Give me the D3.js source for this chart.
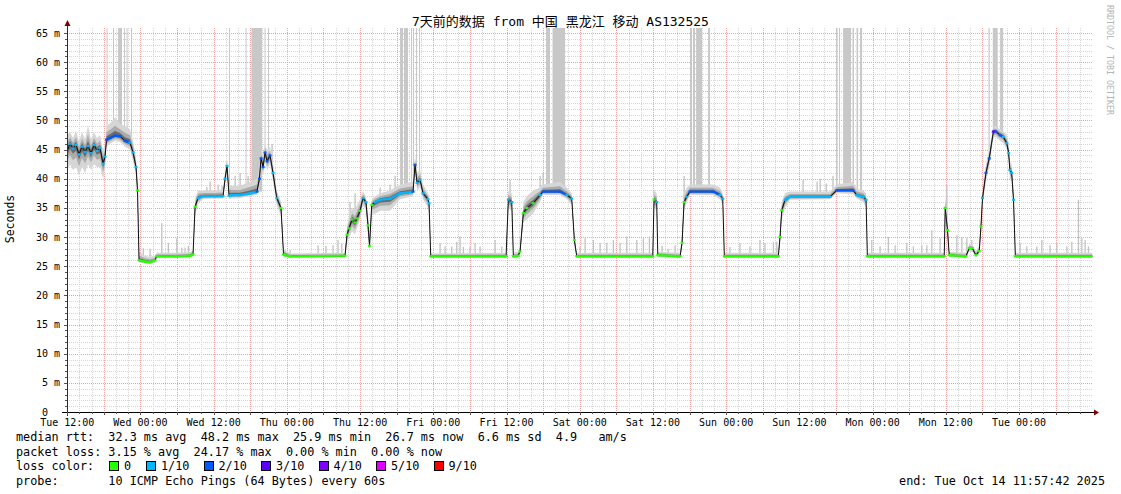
<!DOCTYPE html>
<html><head><meta charset="utf-8">
<script src="https://cdn.jsdelivr.net/npm/d3@7"></script>
<style>
html,body{margin:0;padding:0;background:#fff;}
svg{display:block;}
text{font-family:"DejaVu Sans Mono","Noto Sans CJK SC",monospace;white-space:pre;}
</style></head><body>
<svg id="chart" width="1121" height="494"></svg>
<script>
// ---- data (hours after Tue 12:00, median rtt in ms) ----
const hours=[0,0.46,0.95,1.44,1.93,2.43,2.92,3.41,3.9,4.39,4.88,5.38,5.87,6.2,6.44,7.0,7.83,8.65,9.47,10.29,10.79,11.28,11.52,11.77,12.75,13.57,14.4,14.64,17.67,20.1,20.62,20.95,21.44,22.26,24.23,25.54,25.87,26.19,26.52,27.0,28.3,29.95,31.1,31.5,31.77,32.1,32.42,32.75,33.24,33.73,34.34,35.04,35.45,36.52,45.53,45.86,46.19,46.68,47.17,47.5,48.0,48.47,48.96,49.3,49.55,49.91,50.45,51.27,52.91,54.55,56.68,57.0,57.34,57.83,58.32,59.14,59.3,59.58,71.93,72.3,72.86,73.12,73.89,74.22,74.76,75.32,76.35,77.5,77.99,80.77,81.87,82.69,83.12,83.51,95.97,96.18,96.62,96.79,100.45,100.77,101.1,101.54,102.08,105.85,107.0,107.44,107.7,116.55,116.83,117.11,117.65,118.47,125.03,126.13,128.8,129.41,130.49,130.93,131.14,143.74,143.9,144.28,144.56,147.3,147.84,148.33,148.94,149.48,149.76,150.02,150.58,151.12,151.8,152.2,152.9,153.4,154.0,154.3,154.5,154.8,155.1,155.4,168];
const median=[44.8,46.0,45.2,45.8,44.2,45.5,44.6,45.6,44.4,45.8,44.8,45.3,42.6,43.8,46.7,47.0,47.4,47.3,46.5,46.2,44.5,42.0,38.0,26.0,25.8,25.7,26.0,26.7,26.7,26.8,27.0,35.2,36.7,37.0,37.0,37.0,40.0,42.2,37.1,37.2,37.2,37.5,37.8,40.0,43.5,42.0,44.5,43.0,44.0,41.0,36.7,35.0,27.0,26.7,26.8,30.4,31.5,33.0,32.5,33.2,34.5,36.7,36.0,32.0,28.5,35.5,36.0,36.4,36.6,37.5,37.8,42.4,39.3,39.8,37.5,36.5,35.8,26.7,26.7,36.4,36.0,26.7,26.8,27.5,34.1,35.0,35.8,37.2,37.8,37.8,37.2,36.6,29.5,26.7,26.7,36.4,36.0,26.9,26.7,29.0,36.0,36.9,37.8,37.8,37.2,36.6,26.7,26.7,30.0,34.6,36.4,36.9,36.9,38.0,38.0,37.2,36.9,36.4,26.7,26.7,35.0,31.2,26.9,26.7,28.1,28.1,26.9,27.6,31.8,36.7,41.0,43.5,48.1,48.1,47.5,47.2,46.1,44.4,41.5,41.0,36.4,26.7,26.7];
const lossLevel=[1,1,1,1,1,1,1,1,1,1,1,1,1,1,2,2,2,2,2,1,1,1,0,0,0,0,0,0,0,0,0,0,1,1,1,1,1,1,1,1,1,1,2,2,2,2,2,2,2,1,1,0,0,0,0,0,0,0,0,0,0,1,1,0,0,0,1,1,1,1,2,2,1,1,1,1,1,0,0,1,1,0,0,0,0,0,0,1,2,2,1,1,0,0,0,0,1,0,0,0,0,1,2,2,1,1,0,0,0,0,1,1,1,2,2,1,1,1,0,0,0,0,0,0,0,0,0,0,0,1,2,2,3,2,2,1,1,1,1,1,1,0,0];
const smokeLo=[41.5,42.5,41.5,42.0,40.5,42.0,41.0,42.5,41.5,42.5,42.0,42.0,40.0,41.5,45.5,46.0,46.5,46.3,45.5,45.0,43.0,40.5,36.0,25.6,25.5,25.4,25.6,26.4,26.4,26.5,26.6,33.5,35.8,36.5,36.6,36.6,39.0,41.0,36.5,36.6,36.7,37.0,37.2,38.5,42.0,40.5,43.0,41.5,42.5,39.5,35.5,33.5,26.5,26.4,26.5,29.0,30.0,31.0,30.5,31.5,33.0,35.5,34.5,30.0,27.5,34.0,34.0,34.5,34.5,36.5,37.0,41.0,38.0,38.5,36.5,35.0,34.0,26.4,26.4,35.0,34.5,26.4,26.4,27.0,32.5,33.0,34.0,36.0,37.2,37.2,36.5,35.5,28.5,26.4,26.4,35.0,34.5,26.5,26.4,28.0,34.5,36.0,37.2,37.2,36.5,35.5,26.4,26.4,29.0,33.0,35.0,36.4,36.5,37.5,37.4,36.6,36.0,35.0,26.4,26.4,33.5,29.5,26.5,26.4,27.5,27.5,26.5,27.0,30.5,35.5,39.5,42.0,47.0,47.2,46.5,46.2,45.0,43.0,40.0,39.5,35.0,26.4,26.4];
const smokeHi=[47.5,48.0,47.0,48.2,46.5,48.0,46.8,49.2,46.8,48.0,47.0,47.5,45.0,46.0,49.0,49.5,50.5,49.5,49.0,48.5,46.5,43.5,40.0,27.5,26.8,26.6,26.8,27.3,27.3,27.4,27.8,36.5,38.0,38.0,38.0,38.2,41.5,43.5,39.0,38.8,38.8,39.5,40.0,42.0,45.0,44.0,46.0,45.0,45.5,42.5,38.0,36.0,28.0,27.2,27.3,32.0,33.5,35.0,34.5,35.5,36.5,37.8,37.0,34.0,30.0,36.5,37.0,37.5,38.0,39.0,39.5,44.0,41.0,41.5,39.0,37.5,37.0,27.2,27.3,38.0,37.5,27.3,27.5,28.5,36.0,37.0,38.0,38.5,39.0,39.5,38.5,37.5,30.5,27.3,27.3,38.0,37.5,27.5,27.3,30.5,37.5,38.5,39.0,39.0,38.5,37.5,27.3,27.3,31.5,36.0,37.5,37.8,37.8,39.0,39.5,38.3,38.0,37.5,27.3,27.3,37.0,33.0,27.5,27.3,28.8,28.8,27.6,28.5,33.0,38.0,42.5,45.0,49.0,49.0,48.5,48.2,47.5,46.0,43.0,42.5,38.0,27.3,27.3];
// pings beyond the graph top (hour ranges)
const tallBars=[[6.44,6.6],[7.5,7.67],[8.33,8.98],[9.31,9.47],[9.72,9.88],[10.46,10.62],[26.52,26.68],[29.23,29.39],[30.2,31.93],[32.34,32.5],[32.91,33.08],[54.55,55.04],[55.2,55.86],[56.35,56.52],[56.68,56.85],[57.17,57.34],[57.66,57.83],[78.48,79.13],[79.54,81.6],[102.08,102.41],[102.57,102.9],[103.07,104.05],[105.04,105.37],[126.0,126.26],[126.5,126.6],[127.17,128.47],[128.71,128.96],[129.37,129.63],[129.95,130.28],[151.0,151.2],[151.7,152.5],[152.9,153.4]];
// single slow pings: [hour, ms]
const spikes=[[12.47,28.1],[13.57,28.0],[15.49,32.4],[16.57,29.0],[17.95,29.8],[18.77,28.2],[19.31,28.2],[19.85,28.5],[22.87,38.6],[23.41,39.5],[24.72,39.0],[25.37,38.8],[27.51,40.5],[28.33,41.0],[29.64,40.5],[33.57,46.0],[36.52,27.8],[41.11,28.6],[42.4,28.5],[43.56,28.6],[44.38,29.5],[44.99,28.9],[46.35,36.0],[47.17,37.5],[51.27,38.5],[52.91,39.0],[53.73,40.5],[61.1,29.0],[61.93,28.4],[63.02,28.4],[63.84,29.2],[64.38,30.1],[64.92,28.3],[66.02,28.4],[66.84,29.0],[67.66,28.4],[70.12,29.5],[71.22,28.4],[72.57,39.8],[77.5,40.5],[77.99,41.0],[84.05,28.4],[84.87,29.8],[86.23,29.5],[87.33,29.0],[88.43,29.0],[89.51,29.5],[90.61,29.0],[91.71,30.1],[93.35,29.5],[94.43,29.8],[95.41,30.1],[96.18,38.0],[97.49,28.5],[98.48,28.0],[99.62,28.6],[101.1,40.5],[108.6,28.3],[110.25,29.0],[111.89,28.4],[113.53,29.5],[114.35,29.0],[115.74,29.2],[116.29,29.2],[120.6,39.8],[122.9,39.5],[123.4,40.0],[124.4,39.2],[125.5,40.5],[131.86,29.5],[133.22,28.4],[134.58,30.0],[135.68,28.6],[137.6,29.0],[138.68,28.4],[140.06,28.6],[140.88,28.6],[141.7,31.2],[143.06,29.8],[144.16,38.9],[145.8,30.3],[146.62,30.0],[147.44,29.8],[148.26,29.5],[156.17,29.0],[157.27,28.4],[158.91,28.4],[159.73,29.5],[161.09,28.6],[162.19,29.0],[163.83,28.4],[164.65,29.2],[165.73,36.4],[166.29,29.8],[166.83,29.5],[167.37,28.4]];
const yTickValues=[0,5,10,15,20,25,30,35,40,45,50,55,60,65];
const yTickLabels=["0  ","5 m","10 m","15 m","20 m","25 m","30 m","35 m","40 m","45 m","50 m","55 m","60 m","65 m"];
const lossLabels=["0","1/10","2/10","3/10","4/10","5/10","9/10"];
const lossColors=["#26ff00","#00b8ff","#0059ff","#5e00ff","#7e00ff","#dd00ff","#ff0000"];
const titleText="7天前的数据 from 中国 黑龙江 移动 AS132525";
const statLines=["median rtt:  32.3 ms avg  48.2 ms max  25.9 ms min  26.7 ms now  6.6 ms sd  4.9   am/s",
                 "packet loss: 3.15 % avg  24.17 % max  0.00 % min  0.00 % now"];
const probeText="probe:       10 ICMP Echo Pings (64 Bytes) every 60s";
const endText="end: Tue Oct 14 11:57:42 2025";

// ---- scales ----
const base=new Date(2025,9,7,12,0,0);
const T=h=>new Date(base.getTime()+h*3600e3);
const tStart=new Date(2025,9,7,11,57,42), tEnd=new Date(2025,9,14,11,57,42);
const X0=67, X1=1092, Y0=412, YT=28;
const x=d3.scaleTime().domain([tStart,tEnd]).range([X0,X1]);
const y=d3.scaleLinear().domain([0,65.86]).range([Y0,YT]);
const svg=d3.select("#chart");
const medAt=h=>{const i=d3.bisectLeft(hours,h);if(i<=0)return median[0];if(i>=hours.length)return median[median.length-1];
  const t=(h-hours[i-1])/(hours[i]-hours[i-1]);return median[i-1]+t*(median[i]-median[i-1]);};
const gridHours=d3.range(0,168,2);

// ---- grid ----
const g=svg.append("g").attr("shape-rendering","crispEdges");
d3.range(1,66).forEach(v=>{
  const major=v%5===0;
  g.append("line").attr("x1",X0).attr("x2",X1+1).attr("y1",Math.round(y(v))+0.5).attr("y2",Math.round(y(v))+0.5)
   .attr("stroke",major?"#f2a0a0":"#d6d6d6").attr("stroke-dasharray","1,1");
});
gridHours.forEach(h=>{
  if(h===0) return;
  const major=h%6===0;
  const xx=Math.round(x(T(h)))+0.5;
  g.append("line").attr("x1",xx).attr("x2",xx).attr("y1",YT).attr("y2",Y0)
   .attr("stroke",major?"#f2a0a0":"#d6d6d6").attr("stroke-dasharray","1,1");
});

// ---- tall bars (pings off scale) ----
svg.append("g").selectAll("rect").data(tallBars).join("rect")
  .attr("x",d=>x(T(d[0]))).attr("width",d=>Math.max(1,x(T(d[1]))-x(T(d[0]))))
  .attr("y",YT).attr("height",d=>y(medAt((d[0]+d[1])/2))-YT).attr("fill","#c8c8c8");
// ---- spikes ----
svg.append("g").selectAll("rect").data(spikes).join("rect")
  .attr("x",d=>x(T(d[0]))-0.6).attr("width",1.3)
  .attr("y",d=>y(d[1])).attr("height",d=>Math.max(0,y(medAt(d[0]))-y(d[1]))).attr("fill","#c2c2c2");

// ---- smoke ----
const idx=d3.range(hours.length);
const band=(f,fill)=>svg.append("path").datum(idx).attr("fill",fill)
  .attr("d",d3.area().x(i=>x(T(hours[i]))).y0(i=>y(median[i]-(median[i]-smokeLo[i])*f)).y1(i=>y(median[i]+(smokeHi[i]-median[i])*f)));
band(1,"#d6d6d6");band(0.55,"#ababab");band(0.25,"#6a6a6a");

// ---- median line ----
svg.append("path").datum(idx).attr("fill","none").attr("stroke","#111").attr("stroke-width",1)
  .attr("d",d3.line().x(i=>x(T(hours[i]))).y(i=>y(median[i])));
const lg=svg.append("g");
for(let i=0;i<hours.length-1;i++){
  const xa=x(T(hours[i])),xb=x(T(hours[i+1])),ya=y(median[i]),yb=y(median[i+1]);
  if(Math.abs(yb-ya)<=Math.max(1.5,(xb-xa)*0.6)){
    lg.append("line").attr("x1",xa).attr("x2",xb).attr("y1",ya).attr("y2",yb)
      .attr("stroke",lossColors[lossLevel[i]]).attr("stroke-width",2.2);
  }
}
lg.selectAll("rect").data(idx.filter(i=>i>0&&i<hours.length-1)).join("rect")
  .attr("x",i=>x(T(hours[i]))-1.5).attr("y",i=>y(median[i])-1.1).attr("width",3).attr("height",2.2)
  .attr("fill",i=>lossColors[lossLevel[i]]);

// ---- axes ----
const ax=svg.append("g").attr("shape-rendering","crispEdges");
ax.append("line").attr("x1",X0-5).attr("x2",X1+2).attr("y1",Y0+0.5).attr("y2",Y0+0.5).attr("stroke","#000");
ax.append("line").attr("x1",X0+0.5).attr("x2",X0+0.5).attr("y1",Y0+4).attr("y2",YT-5).attr("stroke","#4a2020");
d3.range(1,66).forEach(v=>{const yy=Math.round(y(v))+0.5;
  ax.append("line").attr("x1",X0-(v%5===0?3:2)).attr("x2",X0).attr("y1",yy).attr("y2",yy).attr("stroke","#555");});
gridHours.forEach(h=>{const xx=Math.round(x(T(h)))+0.5;
  ax.append("line").attr("x1",xx).attr("x2",xx).attr("y1",Y0).attr("y2",Y0+(h%6===0?3:2)).attr("stroke","#555");});
svg.append("path").attr("d",`M${X0-2.5},${YT-2} L${X0+3.5},${YT-2} L${X0+0.5},${YT-8} Z`).attr("fill","#7f0000");
svg.append("path").attr("d",`M${X1+2},${Y0-2.5} L${X1+2},${Y0+3.5} L${X1+7},${Y0+0.5} Z`).attr("fill","#7f0000");

// ---- labels ----
svg.selectAll("text.yl").data(yTickValues).join("text").attr("class","yl")
  .attr("x",60).attr("y",v=>y(v)+3.5).attr("text-anchor","end").attr("font-size",10).attr("fill","#000")
  .text((v,i)=>yTickLabels[i]);
const fmt=d3.timeFormat("%a %H:%M");
svg.selectAll("text.xl").data(d3.range(0,168,12).map(T)).join("text").attr("class","xl")
  .attr("x",d=>x(d)).attr("y",425.5).attr("text-anchor","middle").attr("font-size",10).attr("fill","#000")
  .text(d=>fmt(d));
svg.append("text").attr("transform","translate(14,219) rotate(-90)").attr("text-anchor","middle")
  .attr("font-size",11.5).attr("fill","#000").text("Seconds");
svg.append("text").attr("x",560.5).attr("y",25.5).attr("text-anchor","middle").attr("font-size",13).attr("fill","#000").text(titleText);
svg.append("text").attr("transform","translate(1107,5) rotate(90)").attr("font-size",8.3).attr("fill","#b4b4b4").text("RRDTOOL / TOBI OETIKER");

const FS=11.8;
statLines.forEach((s,i)=>svg.append("text").attr("x",16).attr("y",441+i*14.5).attr("font-size",FS).attr("fill","#000").text(s));
svg.append("text").attr("x",16).attr("y",470).attr("font-size",FS).attr("fill","#000").text("loss color:");
lossLabels.forEach((l,i)=>{
  const bx=i===0?109:146+(i-1)*57.5;
  svg.append("rect").attr("x",bx+0.5).attr("y",461.5).attr("width",9).attr("height",9).attr("fill",lossColors[i]).attr("stroke","#000").attr("shape-rendering","crispEdges");
  svg.append("text").attr("x",bx+15).attr("y",470).attr("font-size",FS).attr("fill","#000").text(l);
});
svg.append("text").attr("x",16).attr("y",484.5).attr("font-size",FS).attr("fill","#000").text(probeText);
svg.append("text").attr("x",1105).attr("y",484.5).attr("text-anchor","end").attr("font-size",FS).attr("fill","#000").text(endText);
</script>
</body></html>
